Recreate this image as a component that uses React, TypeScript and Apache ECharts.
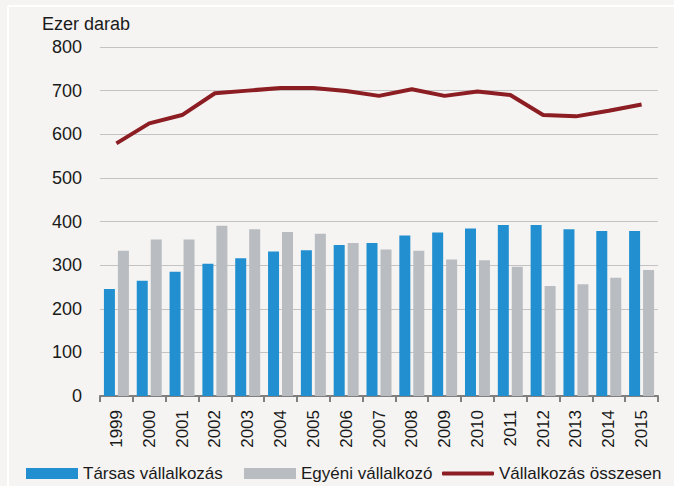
import React, { useEffect, useRef } from "react";
import * as echarts from "echarts";

const years = ["1999","2000","2001","2002","2003","2004","2005","2006","2007","2008","2009","2010","2011","2012","2013","2014","2015"];
const tarsas = [245,264,285,303,316,331,334,346,351,368,375,384,392,392,382,378,378];
const egyeni = [333,359,359,390,382,376,372,351,336,333,313,311,296,252,256,271,289];
const osszesen = [579,625,644,694,700,706,706,699,688,703,688,698,690,644,641,654,668];

const FONT = "'Liberation Sans', Arial, sans-serif";
const TXT = "#1a1a1a";

export default function App() {
  const ref = useRef<HTMLDivElement>(null);
  useEffect(() => {
    document.body.style.margin = "0";
    const chart = echarts.init(ref.current!, null, { renderer: "svg" });
    const legendBase = {
      top: 465,
      itemWidth: 52,
      itemHeight: 11,
      itemGap: 5,
      padding: 0,
      textStyle: { fontSize: 17, color: TXT, fontFamily: FONT },
    };
    chart.setOption({
      animation: false,
      backgroundColor: "#f5f4f2",
      textStyle: { fontFamily: FONT },
      graphic: [
        { type: "line", shape: { x1: 8, y1: 6, x2: 674, y2: 6 }, style: { stroke: "#ffffff", lineWidth: 2 } },
        { type: "line", shape: { x1: 8, y1: 6, x2: 8, y2: 486 }, style: { stroke: "#ffffff", lineWidth: 2 } },
        { type: "text", left: 42, top: 15, style: { text: "Ezer darab", font: `18px ${FONT}`, fill: TXT } },
      ],
      grid: { left: 100, right: 16, top: 47, bottom: 90, containLabel: false },
      legend: [
        { ...legendBase, left: 26, data: [{ name: "Társas vállalkozás", icon: "rect" }] },
        { ...legendBase, left: 244, data: [{ name: "Egyéni vállalkozó", icon: "rect" }] },
        { ...legendBase, left: 442, itemHeight: 4, data: [{ name: "Vállalkozás összesen", icon: "roundRect" }] },
      ],
      xAxis: {
        type: "category",
        data: years,
        axisLine: { lineStyle: { color: "#7f7f7f", width: 2 } },
        axisTick: { show: true, length: 6, lineStyle: { color: "#7f7f7f", width: 2 } },
        axisLabel: { rotate: 90, fontSize: 17, color: TXT, margin: 14, fontFamily: FONT },
      },
      yAxis: {
        type: "value",
        min: 0,
        max: 800,
        interval: 100,
        axisLine: { show: false },
        axisTick: { show: false },
        axisLabel: { fontSize: 18, color: TXT, margin: 18, fontFamily: FONT },
        splitLine: { lineStyle: { color: "#c3c3c3", width: 1 } },
      },
      series: [
        {
          name: "Társas vállalkozás",
          type: "bar",
          data: tarsas,
          barWidth: 11,
          barGap: "27%",
          itemStyle: { color: "#2290d0" },
        },
        {
          name: "Egyéni vállalkozó",
          type: "bar",
          data: egyeni,
          barWidth: 11,
          itemStyle: { color: "#b9bcc0" },
        },
        {
          name: "Vállalkozás összesen",
          type: "line",
          data: osszesen,
          symbol: "none",
          showSymbol: false,
          lineStyle: { color: "#8c1d23", width: 4 },
          itemStyle: { color: "#8c1d23" },
        },
      ],
    });
    return () => chart.dispose();
  }, []);
  return <div ref={ref} style={{ position: "fixed", left: 0, top: 0, width: 674, height: 486 }} />;
}
